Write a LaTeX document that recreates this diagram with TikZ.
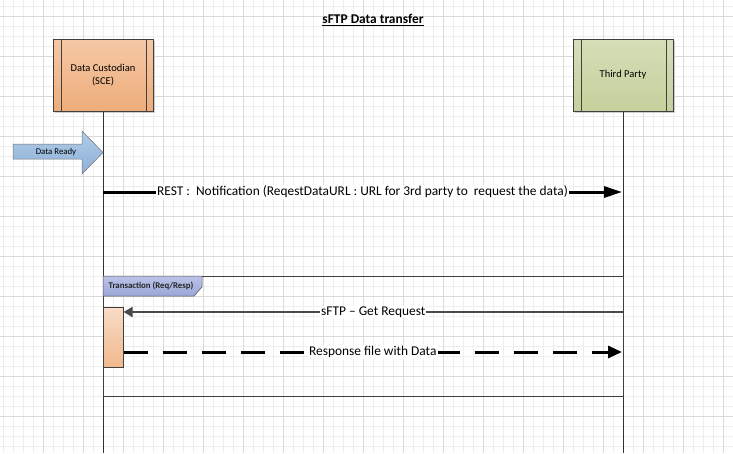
\documentclass[tikz,border=0pt]{standalone}
\usepackage{fontspec}
\setmainfont{Carlito}
\usetikzlibrary{positioning,arrows.meta,shadows}

\definecolor{gridminor}{HTML}{EEEEEE}
\definecolor{gridmajor}{HTML}{DADADA}
\definecolor{custtop}{HTML}{F5C8A6}
\definecolor{custbot}{HTML}{EEAD7A}
\definecolor{thirdtop}{HTML}{D6DEB8}
\definecolor{thirdbot}{HTML}{C5D09C}
\definecolor{readytop}{HTML}{B0CBE6}
\definecolor{readybot}{HTML}{8DB1D8}
\definecolor{tabtop}{HTML}{BCC3E8}
\definecolor{tabbot}{HTML}{9AA6D6}
\definecolor{acttop}{HTML}{F9DCC8}
\definecolor{actbot}{HTML}{F0B88C}
\definecolor{getmsg}{HTML}{4A4A4A}

\tikzset{
  actor/.style={draw=black!75, line width=0.8pt, minimum width=100pt, minimum height=72pt,
    align=center, font=\fontsize{10.5}{12.5}\selectfont,
    drop shadow={shadow xshift=2pt, shadow yshift=-2pt, fill=black!20, opacity=1}},
  lifeline/.style={draw=black!80, line width=0.7pt},
  msglbl/.style={fill=white, inner sep=1pt, font=\fontsize{13.4}{15}\selectfont},
  restmsg/.style={line width=3pt, -{Triangle[length=18pt,width=11pt]}},
  getreq/.style={draw=getmsg, line width=2.6pt, -{Triangle[length=9pt,width=10pt]}},
  respmsg/.style={line width=3pt, dash pattern=on 24pt off 15pt,
    -{Triangle[length=14pt,width=12pt]}},
}

\begin{document}
\begin{tikzpicture}[x=1pt,y=-1pt]
    \useasboundingbox (0,0) rectangle (733,453);
    \fill[white] (0,0) rectangle (733,453);

    % grille de fond
    \foreach \i in {0,...,72}
        \draw[gridminor, line width=0.6pt] (3.3+10*\i,0) -- (3.3+10*\i,453);
    \foreach \j in {0,...,44}
        \draw[gridminor, line width=0.6pt] (0,6.7+10*\j) -- (733,6.7+10*\j);
    \foreach \i in {0,...,18}
        \draw[gridmajor, line width=0.6pt] (43.3+40*\i,0) -- (43.3+40*\i,453);
    \foreach \j in {0,...,10}
        \draw[gridmajor, line width=0.6pt] (0,16.7+40*\j) -- (733,16.7+40*\j);

    % titre
    \node[font=\bfseries\fontsize{13.4}{15}\selectfont] (title) at (373,20) {\underline{sFTP Data transfer}};

    % acteurs
    \node[actor, top color=custtop, bottom color=custbot] (custodian) at (103,75) {Data Custodian\\(SCE)};
    \node[actor, top color=thirdtop, bottom color=thirdbot] (thirdparty) at (623,75) {Third Party};
    \foreach \a in {custodian,thirdparty} {
        \draw[black!75, line width=0.8pt] ([xshift=9pt]\a.north west) -- ([xshift=9pt]\a.south west);
        \draw[black!75, line width=0.8pt] ([xshift=-7pt]\a.north east) -- ([xshift=-7pt]\a.south east);
    }

    % lignes de vie
    \coordinate (custend) at (103,453);
    \coordinate (thirdend) at (623,453);
    \draw[lifeline] (custodian.south) -- (custend);
    \draw[lifeline] (thirdparty.south) -- (thirdend);

    % fleche Data Ready
    \draw[black!55, line width=0.5pt, top color=readytop, bottom color=readybot]
        (13,144) -- (82,144) -- (82,131) -- (103,152.5) -- (82,174) -- (82,159) -- (13,159) -- cycle;
    \node[font=\fontsize{8.8}{10}\selectfont] (ready) at (56,152) {Data Ready};

    % notification REST
    \coordinate (rest-s) at (103,192);
    \coordinate (rest-e) at (622,192);
    \draw[restmsg] (rest-s) -- node[msglbl] (restlbl) {REST :\ \ Notification (ReqestDataURL : URL for 3rd party to\ \ request the data)} (rest-e);

    % cadre de transaction
    \draw[black!75, line width=0.7pt] (103,276) rectangle (623,396);
    \draw[black!70, line width=0.5pt, top color=tabtop, bottom color=tabbot]
        (103,276) -- (202,276) -- (202,287) -- (194,296) -- (103,296) -- cycle;
    \node[font=\bfseries\fontsize{8.8}{10}\selectfont, text=black!85] (tablbl) at (151,286) {Transaction (Req/Resp)};

    % activation
    \node[draw=black!75, line width=0.6pt, top color=acttop, bottom color=actbot,
          minimum width=20pt, minimum height=60pt, inner sep=0pt, anchor=north west] (act) at (103,307) {};

    % requete et reponse sFTP
    \coordinate (get-s) at (623,312);
    \coordinate (resp-e) at (622,352);
    \draw[getreq] (get-s) -- node[msglbl] (getlbl) {sFTP -- Get Request} (act.east |- get-s);
    \draw[respmsg] (act.east |- resp-e) -- node[msglbl] (resplbl) {Response file with Data} (resp-e);
\end{tikzpicture}
\end{document}
